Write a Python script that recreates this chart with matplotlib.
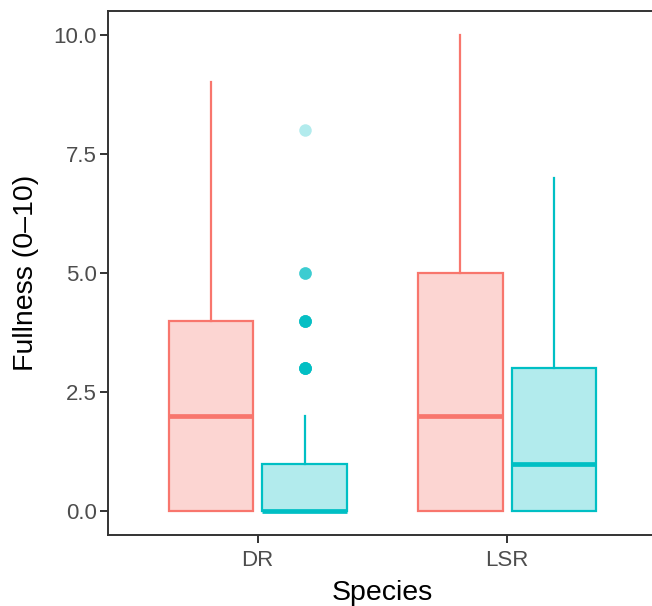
import numpy as np
import matplotlib.pyplot as plt
import matplotlib.colors as mcolors

plt.rcParams['font.family'] = ['Liberation Sans', 'DejaVu Sans']

species = ["DR", "LSR"]
groups = ["A", "B"]
group_colors = ["#F8766D", "#00BFC4"]

# five-number summaries per species, per group: (whislo, q1, med, q3, whishi)
stats_a = [(0, 0, 2, 4, 9), (0, 0, 2, 5, 10)]
stats_b = [(0, 0, 0, 1, 2), (0, 0, 1, 3, 7)]
# outlying observations (repeated values stack up in the plot)
fliers_a = [[], []]
fliers_b = [[3] * 12 + [4] * 10 + [5] * 4 + [8], []]

yticks = [0.0, 2.5, 5.0, 7.5, 10.0]

fig, ax = plt.subplots(figsize=(6.52, 6.06), dpi=100)
fig.subplots_adjust(left=0.1656, right=1.0077, top=0.982, bottom=0.117)

dodge = 0.75
box_w = dodge / 2 * 0.9
base = np.arange(1, len(species) + 1)

for gi, (stats, fliers) in enumerate([(stats_a, fliers_a), (stats_b, fliers_b)]):
    col = group_colors[gi]
    fill = mcolors.to_rgba(col, 0.3)
    pos = base + (gi - 0.5) * dodge / 2
    bxpstats = []
    for (lo, q1, med, q3, hi), fl in zip(stats, fliers):
        bxpstats.append(dict(whislo=lo, q1=q1, med=med, q3=q3, whishi=hi, fliers=fl))
    ax.bxp(bxpstats, positions=pos, widths=box_w, patch_artist=True,
           showcaps=False,
           boxprops=dict(facecolor=fill, edgecolor=col, linewidth=1.6),
           whiskerprops=dict(color=col, linewidth=1.6),
           medianprops=dict(color=col, linewidth=3.4, solid_capstyle='butt'),
           flierprops=dict(marker='o', markerfacecolor=mcolors.to_rgba(col, 0.3),
                           markeredgecolor='none', markersize=9))

ax.set_xlim(0.4, 2.6)
ax.set_ylim(-0.5, 10.5)
ax.set_xticks(base)
ax.set_xticklabels(species)
ax.set_yticks(yticks)
ax.set_yticklabels([f"{v:.1f}" for v in yticks])

for s in ax.spines.values():
    s.set_color("#333333")
    s.set_linewidth(1.4)
ax.tick_params(colors="#333333", length=5.5, width=1.4, labelsize=16,
               labelcolor="#4D4D4D", pad=2.5)
ax.tick_params(axis="x", pad=5.5)

ax.set_xlabel("Species", fontsize=20.5, labelpad=6.5)
ax.set_ylabel("Fullness (0\u201310)", fontsize=20.5, labelpad=10.5)

fig.savefig("out.png", dpi=100)
